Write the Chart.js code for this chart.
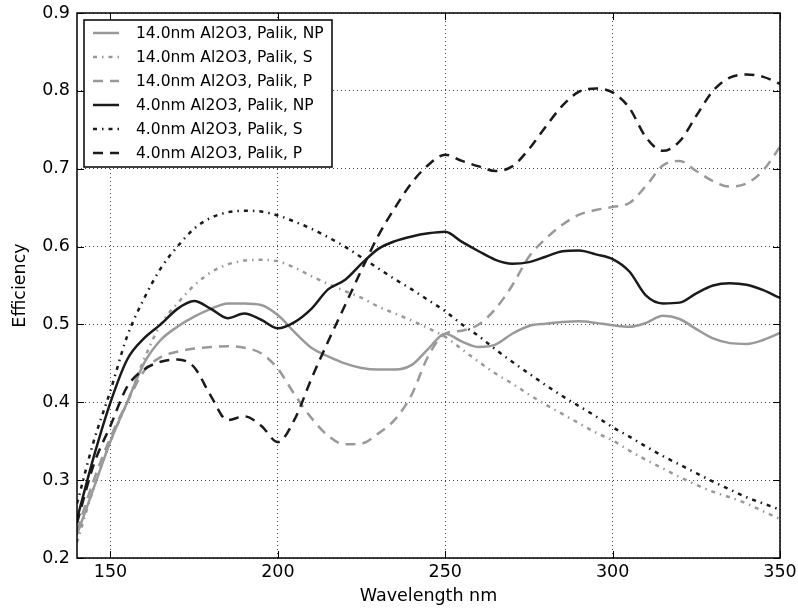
<!DOCTYPE html>
<html>
<head>
<meta charset="utf-8">
<script src="https://cdn.jsdelivr.net/npm/chart.js@4.4.0/dist/chart.umd.min.js"></script>
<style>
  html, body { margin: 0; padding: 0; background: #fff; }
  #wrap { width: 798px; height: 609px; position: relative; }
</style>
</head>
<body>
<div id="wrap"><canvas id="effChart"></canvas></div>
<script>
// Данные
const wavelengths = [140,145,150,155,160,165,170,175,180,185,190,195,200,205,210,215,220,225,230,235,240,245,250,
                     255,260,265,270,275,280,285,290,295,300,305,310,315,320,325,330,335,340,345,350];

const np14 = [0.23,0.29,0.35,0.40,0.45,0.48,0.497,0.51,0.52,0.527,0.527,0.525,0.512,0.49,0.47,0.459,0.45,0.444,0.442,0.442,0.448,0.469,0.488,
              0.478,0.471,0.474,0.488,0.498,0.501,0.503,0.504,0.502,0.499,0.497,0.502,0.511,0.507,0.494,0.482,0.476,0.475,0.48,0.489];
const s14  = [0.22,0.29,0.35,0.40,0.455,0.50,0.527,0.55,0.567,0.577,0.582,0.583,0.581,0.573,0.562,0.552,0.543,0.534,0.523,0.514,0.505,0.495,0.484,
              0.468,0.452,0.437,0.424,0.41,0.397,0.385,0.373,0.361,0.351,0.338,0.326,0.315,0.304,0.294,0.285,0.278,0.27,0.26,0.25];
const p14  = [0.235,0.30,0.355,0.40,0.44,0.458,0.465,0.469,0.471,0.472,0.47,0.463,0.443,0.41,0.38,0.357,0.346,0.347,0.36,0.378,0.41,0.46,0.488,
              0.492,0.50,0.52,0.55,0.587,0.61,0.628,0.641,0.647,0.651,0.656,0.678,0.704,0.71,0.697,0.684,0.677,0.681,0.698,0.728];
const np4  = [0.25,0.33,0.40,0.455,0.482,0.50,0.52,0.53,0.52,0.508,0.514,0.506,0.495,0.503,0.52,0.545,0.557,0.578,0.597,0.607,0.613,0.617,0.619,
              0.606,0.594,0.583,0.578,0.58,0.587,0.594,0.595,0.59,0.584,0.568,0.537,0.527,0.528,0.54,0.55,0.553,0.551,0.544,0.534];
const s4   = [0.27,0.35,0.415,0.485,0.533,0.572,0.60,0.623,0.637,0.644,0.646,0.645,0.64,0.632,0.623,0.612,0.60,0.586,0.572,0.558,0.545,0.531,0.517,
              0.50,0.485,0.468,0.452,0.437,0.422,0.408,0.395,0.382,0.368,0.356,0.343,0.331,0.32,0.309,0.298,0.288,0.278,0.27,0.262];
const p4   = [0.245,0.32,0.37,0.42,0.442,0.452,0.455,0.445,0.408,0.377,0.382,0.37,0.349,0.378,0.43,0.478,0.524,0.57,0.614,0.65,0.682,0.705,0.718,
              0.71,0.703,0.697,0.703,0.725,0.754,0.781,0.799,0.803,0.798,0.778,0.74,0.723,0.735,0.768,0.80,0.817,0.821,0.818,0.809];

const seriesLabels = ['14.0nm Al2O3, Palik, NP','14.0nm Al2O3, Palik, S','14.0nm Al2O3, Palik, P',
                      '4.0nm Al2O3, Palik, NP','4.0nm Al2O3, Palik, S','4.0nm Al2O3, Palik, P'];
const xTicks = [150,200,250,300,350];
const yTicks = [0.2,0.3,0.4,0.5,0.6,0.7,0.8,0.9];

const GRAY = '#999999', BLACK = '#1a1a1a';
const SOLID = [], DASHDOT = [4,5,1.5,5], DASHED = [10,7];

Chart.defaults.font.family = '"DejaVu Sans", sans-serif';
Chart.defaults.color = '#000';

function line(label, data, color, dash, order) {
    return {
        label, data: data.map((v, i) => ({ x: wavelengths[i], y: v })),
        borderColor: color, borderDash: dash, borderWidth: 2.5, borderCapStyle: 'butt',
        pointRadius: 0, fill: false, cubicInterpolationMode: 'monotone', order
    };
}

// рамка, внутренние засечки и легенда
const frameAndLegend = {
    id: 'frameAndLegend',
    afterDatasetsDraw(chart) {
        const { ctx, chartArea: a, scales } = chart;
        ctx.save();
        ctx.setLineDash([]);
        ctx.strokeStyle = '#000';
        ctx.lineWidth = 1;
        ctx.beginPath();
        for (const v of xTicks) {
            const px = Math.round(scales.x.getPixelForValue(v)) + 0.5;
            ctx.moveTo(px, a.bottom); ctx.lineTo(px, a.bottom - 7);
            ctx.moveTo(px, a.top); ctx.lineTo(px, a.top + 7);
        }
        for (const v of yTicks) {
            const py = Math.round(scales.y.getPixelForValue(v)) + 0.5;
            ctx.moveTo(a.left, py); ctx.lineTo(a.left + 7, py);
            ctx.moveTo(a.right, py); ctx.lineTo(a.right - 7, py);
        }
        ctx.stroke();
        ctx.lineWidth = 1.5;
        ctx.strokeRect(a.left, a.top, a.width, a.height);

        // легенда
        const lx = a.left + 7, ly = a.top + 7, lw = 248, lh = 147;
        ctx.fillStyle = '#fff';
        ctx.fillRect(lx, ly, lw, lh);
        ctx.strokeRect(lx, ly, lw, lh);
        ctx.font = '15.5px "DejaVu Sans", sans-serif';
        ctx.textBaseline = 'middle';
        chart.data.datasets.forEach((ds, i) => {
            const cy = ly + 13 + i * 24;
            ctx.strokeStyle = ds.borderColor;
            ctx.lineWidth = ds.borderWidth;
            ctx.lineCap = 'butt';
            ctx.setLineDash(ds.borderDash);
            ctx.beginPath();
            ctx.moveTo(lx + 9, cy); ctx.lineTo(lx + 35, cy);
            ctx.stroke();
            ctx.setLineDash([]);
            ctx.fillStyle = '#000';
            ctx.fillText(ds.label, lx + 52, cy + 1);
        });
        ctx.restore();
    }
};

const ctx = document.getElementById('effChart').getContext('2d');
new Chart(ctx, {
    type: 'line',
    data: {
        datasets: [
            line(seriesLabels[0], np14, GRAY, SOLID, 1),
            line(seriesLabels[1], s14, GRAY, DASHDOT, 1),
            line(seriesLabels[2], p14, GRAY, DASHED, 1),
            line(seriesLabels[3], np4, BLACK, SOLID, 0),
            line(seriesLabels[4], s4, BLACK, DASHDOT, 0),
            line(seriesLabels[5], p4, BLACK, DASHED, 0)
        ]
    },
    options: {
        responsive: true, maintainAspectRatio: false, animation: false,
        layout: { padding: { left: 0, right: 18, top: 13, bottom: 0 } },
        plugins: { legend: { display: false }, tooltip: { enabled: false } },
        scales: {
            x: {
                type: 'linear', min: 140, max: 350,
                afterBuildTicks: s => { s.ticks = xTicks.map(v => ({ value: v })); },
                afterFit: s => { s.height = 51; s.paddingLeft = 0; s.paddingRight = 0; },
                ticks: { font: { size: 17.5 }, padding: 4, autoSkip: false, maxRotation: 0, callback: v => String(v) },
                grid: { color: 'rgba(0,0,0,0.75)', lineWidth: 1, drawTicks: false },
                border: { display: false, dash: [1, 3] },
                title: { display: true, text: 'Wavelength nm', font: { size: 17.5 }, padding: { top: 0, bottom: 2 } }
            },
            y: {
                min: 0.2, max: 0.9,
                afterBuildTicks: s => { s.ticks = yTicks.map(v => ({ value: v })); },
                afterFit: s => { s.width = 77; s.paddingTop = 0; s.paddingBottom = 0; },
                ticks: { font: { size: 17.5 }, padding: 7, callback: v => v.toFixed(1) },
                grid: { color: 'rgba(0,0,0,0.75)', lineWidth: 1, drawTicks: false },
                border: { display: false, dash: [1, 3] },
                title: { display: true, text: 'Efficiency', font: { size: 17.5 }, padding: { top: 10, bottom: 0 } }
            }
        }
    },
    plugins: [frameAndLegend]
});
</script>
</body>
</html>
